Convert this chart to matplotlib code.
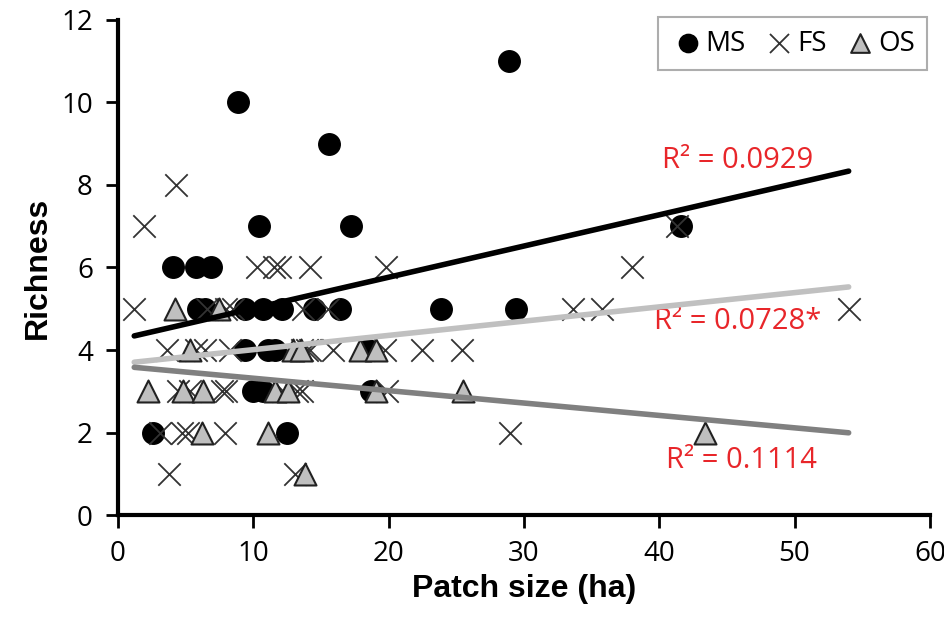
import numpy as np
import matplotlib
matplotlib.use("Agg")
import matplotlib.pyplot as plt

# MS - black circles
ms_x = [2.6, 12.5, 10.0, 10.7, 18.7, 9.4, 11.1, 11.6, 18.5,
        5.9, 6.4, 9.4, 10.7, 12.1, 14.5, 16.4, 23.9, 29.4,
        4.1, 5.8, 6.9, 10.4, 17.2, 41.6, 15.6, 8.9, 28.9]
ms_y = [2, 2, 3, 3, 3, 4, 4, 4, 4,
        5, 5, 5, 5, 5, 5, 5, 5, 5,
        6, 6, 6, 7, 7, 7, 9, 10, 11]

# FS - crosses
fs_x = [3.8, 13.1,
        3.1, 4.7, 5.2, 7.9, 29.0,
        4.4, 5.3, 7.7, 8.0, 12.2, 13.2, 13.6, 19.9,
        3.6, 5.8, 6.4, 8.3, 13.6, 14.0, 14.2, 15.9, 19.7, 22.5, 25.4,
        1.2, 6.6, 8.0, 8.5, 13.7, 15.5, 33.6, 35.8, 54.0,
        10.3, 11.5, 12.0, 14.2, 19.8, 38.0,
        1.9, 41.3,
        4.3]
fs_y = [1, 1,
        2, 2, 2, 2, 2,
        3, 3, 3, 3, 3, 3, 3, 3,
        4, 4, 4, 4, 4, 4, 4, 4, 4, 4, 4,
        5, 5, 5, 5, 5, 5, 5, 5, 5,
        6, 6, 6, 6, 6, 6,
        7, 7,
        8]

# OS - grey triangles
os_x = [13.8,
        6.2, 11.1, 43.4,
        2.2, 4.8, 6.3, 11.6, 12.6, 19.1, 25.5,
        5.3, 12.9, 13.5, 17.9, 19.1,
        4.2, 7.5]
os_y = [1,
        2, 2, 2,
        3, 3, 3, 3, 3, 3, 3,
        4, 4, 4, 4, 4,
        5, 5]

r2_labels = ["R\u00b2 = 0.0929", "R\u00b2 = 0.0728*", "R\u00b2 = 0.1114"]

fig = plt.figure(figsize=(9.44, 6.17), dpi=100)
ax = fig.add_axes([0.125, 0.165, 0.86, 0.803])

ax.scatter(ms_x, ms_y, s=240, marker="o", color="black", zorder=3, label="MS")
ax.scatter(fs_x, fs_y, s=260, marker="x", color="#333333", linewidths=1.3, zorder=3, label="FS")
ax.scatter(os_x, os_y, s=250, marker="^", facecolor="#bfbfbf", edgecolor="#222222",
           linewidths=1.5, zorder=3, label="OS")

# trend lines over the whole x range
all_x = np.array(ms_x + fs_x + os_x)
xr = np.array([all_x.min(), all_x.max()])
for xs, ys, col in [(ms_x, ms_y, "black"), (fs_x, fs_y, "#c0c0c0"), (os_x, os_y, "#808080")]:
    k, b = np.polyfit(xs, ys, 1)
    ax.plot(xr, k * xr + b, color=col, lw=4, zorder=4, solid_capstyle="round")

red = "#e8262a"
ax.text(45.8, 8.6, r2_labels[0], color=red, fontsize=21, ha="center", va="center", family="Open Sans")
ax.text(45.8, 4.68, r2_labels[1], color=red, fontsize=21, ha="center", va="center", family="Open Sans")
ax.text(46.1, 1.33, r2_labels[2], color=red, fontsize=21, ha="center", va="center", family="Open Sans")

ax.set_xlim(0, 60)
ax.set_ylim(0, 12)
ax.set_xticks(range(0, 61, 10))
ax.set_yticks(range(0, 13, 2))
for s in ["top", "right"]:
    ax.spines[s].set_visible(False)
for s in ["left", "bottom"]:
    ax.spines[s].set_linewidth(3)
ax.tick_params(direction="out", length=9, width=2, labelsize=20, pad=9)
for lab in ax.get_xticklabels() + ax.get_yticklabels():
    lab.set_family("Open Sans")

ax.set_xlabel("Patch size (ha)", fontsize=23, fontweight="bold", family="Liberation Sans", labelpad=4)
ax.set_ylabel("Richness", fontsize=23, fontweight="bold", family="Liberation Sans", labelpad=6)

leg = ax.legend(loc="upper right", ncol=3, frameon=True, fancybox=False,
                handletextpad=0.05, columnspacing=0.6, borderpad=0.45, handlelength=1.2,
                markerscale=0.85, borderaxespad=0, bbox_to_anchor=(0.997, 1.005),
                prop={"family": "Open Sans", "size": 20})
leg.get_frame().set_edgecolor("#999999")
leg.get_frame().set_linewidth(1.5)

fig.savefig("out.png", dpi=100)
